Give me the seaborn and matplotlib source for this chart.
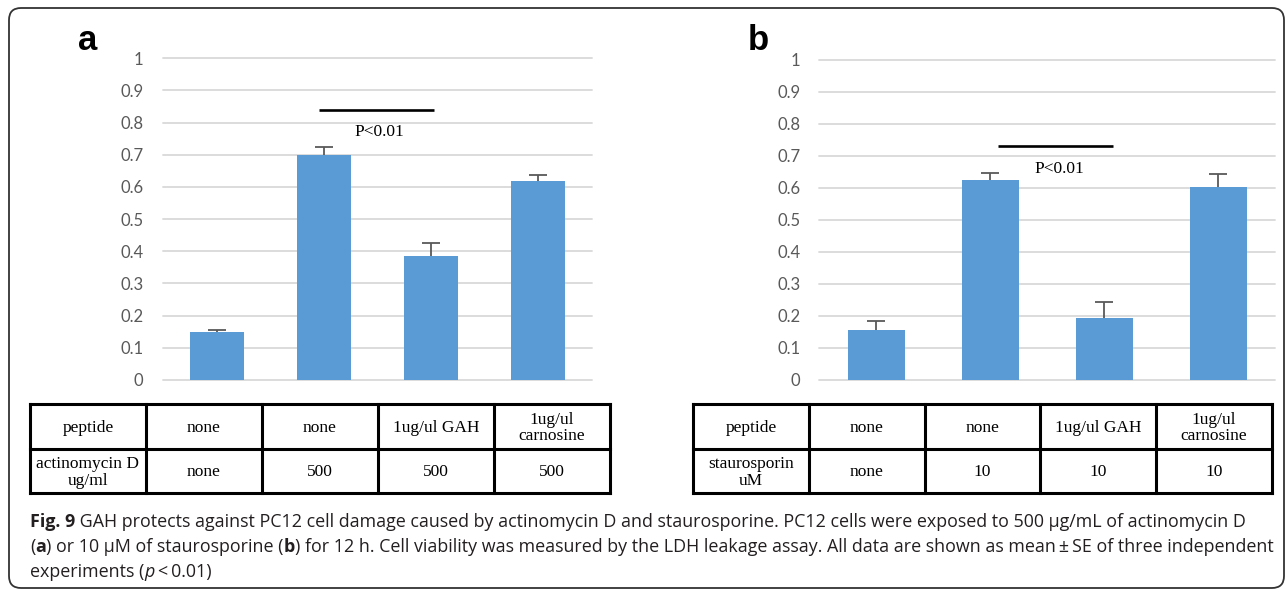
import numpy as np
import pandas as pd
import matplotlib
matplotlib.use("Agg")
import matplotlib.pyplot as plt
import seaborn as sns
from matplotlib.patches import FancyBboxPatch
from matplotlib.transforms import IdentityTransform

# ---------------- data ----------------
categories = ["none / none", "none / drug", "GAH / drug", "carnosine / drug"]
values_a = [0.150, 0.700, 0.385, 0.620]
errors_a = [0.004, 0.024, 0.042, 0.016]
values_b = [0.157, 0.625, 0.195, 0.604]
errors_b = [0.027, 0.021, 0.048, 0.040]
y_ticks = [0, 0.1, 0.2, 0.3, 0.4, 0.5, 0.6, 0.7, 0.8, 0.9, 1.0]
y_tick_labels = ["0", "0.1", "0.2", "0.3", "0.4", "0.5", "0.6", "0.7", "0.8", "0.9", "1"]
sig_label = "P<0.01"
table_header = ["peptide", "none", "none", "1ug/ul GAH", "1ug/ul\ncarnosine"]
table_row_a = ["actinomycin D\nug/ml", "none", "500", "500", "500"]
table_row_b = ["staurosporin\nuM", "none", "10", "10", "10"]
panel_labels = ["a", "b"]
caption_lines = [
    [("Fig. 9", "bold"), (" GAH protects against PC12 cell damage caused by actinomycin D and staurosporine. "
                          "PC12 cells were exposed to 500 \u00b5g/mL of actinomycin D", "normal")],
    [("(", "normal"), ("a", "bold"), (") or 10 \u00b5M of staurosporine (", "normal"), ("b", "bold"),
     (") for 12 h. Cell viability was measured by the LDH leakage assay. All data are shown as mean\u2009\u00b1\u2009SE "
      "of three independent", "normal")],
    [("experiments (", "normal"), ("p", "italic"), ("\u2009<\u20090.01)", "normal")],
]

# ---------------- style ----------------
BAR = "#5B9BD5"
ERR = "#595959"
GRID = "#D9D9D9"
TICK = "#595959"
CAP = "#231F20"

sns.set_theme(style="white")
plt.rcParams["font.family"] = ["Lato", "DejaVu Sans"]

W, H = 1287, 590
fig = plt.figure(figsize=(W / 100, H / 100), dpi=100)


def px_axes(left, top, right, bottom):
    return fig.add_axes([left / W, 1 - bottom / H, (right - left) / W, (bottom - top) / H])


def bar_panel(ax, vals, errs, sig_x, sig_y, txt_x, txt_y, pad):
    df = pd.DataFrame({"cat": categories, "val": vals})
    sns.barplot(data=df, x="cat", y="val", color=BAR, width=0.5, saturation=1,
                ax=ax, linewidth=0, errorbar=None, zorder=2)
    xs = np.arange(len(vals))
    # symmetric error bars drawn behind the bars (lower half hidden, as in the original)
    ax.errorbar(xs, vals, yerr=errs, fmt="none", ecolor=ERR,
                elinewidth=1.3, capsize=6.5, capthick=1.3, zorder=1)
    ax.set_xlim(-0.5, len(vals) - 0.5)
    ax.set_ylim(0, 1)
    ax.set_yticks(y_ticks)
    ax.set_yticklabels(y_tick_labels)
    ax.yaxis.grid(True, color=GRID, lw=1.3)
    ax.set_axisbelow(True)
    for s in ax.spines.values():
        s.set_visible(False)
    ax.tick_params(axis="y", length=0, pad=pad, labelsize=12, labelcolor=TICK)
    ax.set_xticks([])
    ax.set_xlabel("")
    ax.set_ylabel("")
    ax.patch.set_alpha(0)
    for gl in ax.get_ygridlines():
        gl.set_clip_on(False)
        gl.set_zorder(0.5)
    ax.plot(sig_x, [sig_y, sig_y], color="black", lw=1.9, solid_capstyle="butt", zorder=5)
    ax.text(txt_x, txt_y, sig_label, ha="center", va="center",
            family="Liberation Serif", fontsize=12.5, color="black")


ax_a = px_axes(163.3, 58.3, 591.7, 380.0)
bar_panel(ax_a, values_a, errors_a, [0.95, 2.03], 0.84, 1.52, 0.77, 14.5)
ax_b = px_axes(819.3, 60.0, 1275.0, 380.0)
bar_panel(ax_b, values_b, errors_b, [1.07, 2.08], 0.732, 1.61, 0.658, 13.5)


def table_panel(left, top, right, bottom, rows):
    tax = px_axes(left, top, right, bottom)
    ncol = len(rows[0])
    nrow = len(rows)
    tax.set_xlim(0, ncol)
    tax.set_ylim(nrow, 0)
    tax.axis("off")
    for i in range(ncol + 1):
        tax.plot([i, i], [0, nrow], color="black", lw=2.2, clip_on=False, solid_capstyle="projecting")
    for j in range(nrow + 1):
        tax.plot([0, ncol], [j, j], color="black", lw=2.2, clip_on=False, solid_capstyle="projecting")
    for r, row in enumerate(rows):
        for c, txt in enumerate(row):
            tax.text(c + 0.5, r + 0.53, txt, ha="center", va="center", family="Liberation Serif",
                     fontsize=12.5, color="black", linespacing=1.02)


table_panel(30, 404.3, 610, 493.3, [table_header, table_row_a])
table_panel(693.3, 404.3, 1271.7, 493.3, [table_header, table_row_b])

fig.text(78 / W, 1 - 50 / H, panel_labels[0], fontsize=25, fontweight="bold",
         family="Liberation Sans", va="baseline", ha="left", color="black")
fig.text(748 / W, 1 - 50 / H, panel_labels[1], fontsize=25, fontweight="bold",
         family="Liberation Sans", va="baseline", ha="left", color="black")

# caption with mixed styles
renderer = fig.canvas.get_renderer()
CAP_FONT = "Open Sans"


def seg_props(style, size):
    p = dict(family=CAP_FONT, fontsize=size, color=CAP, va="baseline", ha="left")
    if style == "bold":
        p["fontweight"] = "bold"
    elif style == "italic":
        p["fontstyle"] = "italic"
    return p


def line_width(segs, size):
    total = 0
    for s, st in segs:
        t = fig.text(0, 0, s, **seg_props(st, size))
        total += t.get_window_extent(renderer).width
        t.remove()
    return total


base = 12.0
size1 = base * 1233.0 / line_width(caption_lines[0], base)
size2 = base * 1244.0 / line_width(caption_lines[1], base)
cap_size = min(size1, size2)

baselines = [527, 552, 577]
for segs, yb in zip(caption_lines, baselines):
    x = 30.0
    for s, st in segs:
        t = fig.text(x / W, 1 - yb / H, s, **seg_props(st, cap_size))
        x += t.get_window_extent(renderer).width

# rounded frame
frame = FancyBboxPatch((9, H - 588), 1275, 580, boxstyle="round,pad=0,rounding_size=12",
                       transform=IdentityTransform(), fill=False, edgecolor="#333333", lw=1.3)
fig.patches.append(frame)

fig.savefig("out.png", dpi=100)
